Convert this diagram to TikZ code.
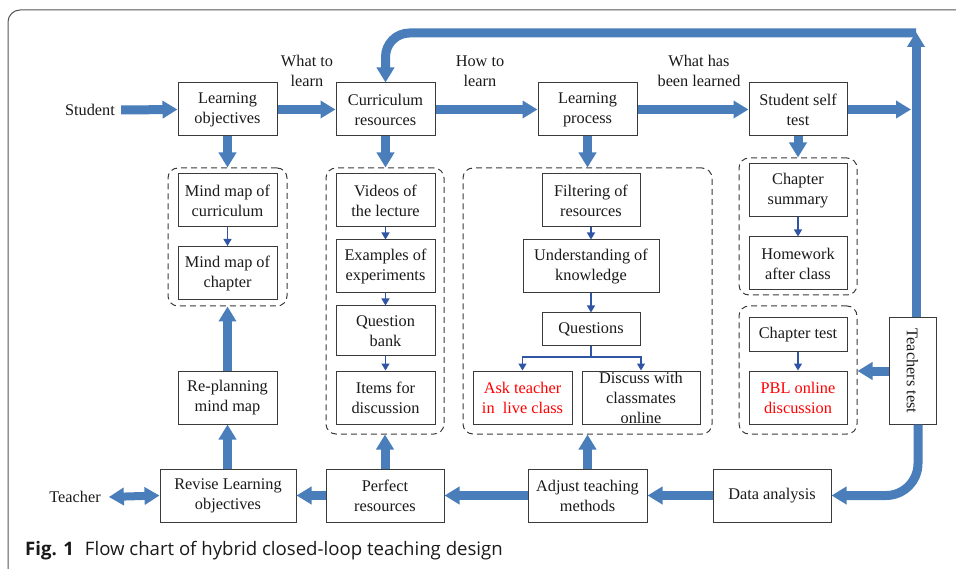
\documentclass[tikz,border=0pt]{standalone}
\usepackage{fontspec}
\usepackage{graphicx}
\setmainfont{Liberation Serif}
\newfontfamily\capfont{Open Sans}
\usetikzlibrary{arrows.meta,calc}
\definecolor{thickblue}{HTML}{4A7EBB}
\definecolor{thinblue}{HTML}{2F55A4}
\definecolor{boxline}{HTML}{3A3A3A}
\definecolor{framecol}{HTML}{555555}
\definecolor{txt}{HTML}{1A1A1A}
\tikzset{
  box/.style={draw=boxline, line width=1pt, fill=white, align=center, inner sep=1pt,
    text=txt, font=\fontsize{16.3}{20}\selectfont},
  plain/.style={align=center, inner sep=1pt, text=txt, font=\fontsize{16.3}{20}\selectfont},
  dbox/.style={draw=boxline, line width=1pt, dash pattern=on 6pt off 4pt, rounded corners=10pt, inner sep=0pt},
  thickarr/.style={draw=thickblue, line width=9pt, -{Triangle[length=15pt,width=17pt]}},
  thickline/.style={draw=thickblue, line width=9pt},
  dblarr/.style={draw=thickblue, line width=8pt, {Triangle[length=15pt,width=17pt]}-{Triangle[length=15pt,width=17pt]}},
  thinarr/.style={draw=thinblue, line width=1.3pt, -{Triangle[length=7pt,width=8pt]}},
  redtext/.style={text=red},
}
\begin{document}
\begin{tikzpicture}[x=1pt,y=-1pt]
\useasboundingbox (0,0) rectangle (956,569);
\draw[framecol, line width=1pt, rounded corners=12pt] (8,10) rectangle (980,580);

% top row
\node[box, minimum width=99pt, minimum height=53pt] (lo) at (227.5,109.5) {Learning\\objectives};
\node[box, minimum width=99pt, minimum height=53pt] (cr) at (385.5,109.5) {Curriculum\\resources};
\node[box, minimum width=99pt, minimum height=53pt] (lp) at (587.5,109.5) {Learning\\process};
\node[box, minimum width=98pt, minimum height=53pt] (sst) at (798,109.5) {Student self\\test};
\node[plain] (student) at (90,110) {Student};
\node[plain] (whatto) at (307,71) {What to\\learn};
\node[plain] (howto) at (480,71) {How to\\learn};
\node[plain] (whathas) at (699,71) {What has\\been learned};

% dashed groups
\node[dbox, minimum width=119pt, minimum height=138pt] (d1) at (227.5,237) {};
\node[dbox, minimum width=118pt, minimum height=266pt] (d2) at (385,301) {};
\node[dbox, minimum width=249pt, minimum height=266pt] (d3) at (587.5,301) {};
\node[dbox, minimum width=118pt, minimum height=137pt] (d4) at (798,226.5) {};
\node[dbox, minimum width=118pt, minimum height=128pt] (d5) at (798,370) {};

% group 1
\node[box, minimum width=99pt, minimum height=53pt] (mmc) at (227.5,200.5) {Mind map of\\curriculum};
\node[box, minimum width=99pt, minimum height=53pt] (mmch) at (227.5,273) {Mind map of\\chapter};
\node[box, minimum width=99pt, minimum height=53pt] (rp) at (227.5,397.5) {Re-planning\\mind map};

% group 2
\node[box, minimum width=99pt, minimum height=53pt] (vid) at (385.5,200.5) {Videos of\\the lecture};
\node[box, minimum width=99pt, minimum height=53pt] (exp) at (385.5,266.5) {Examples of\\experiments};
\node[box, minimum width=99pt, minimum height=50pt] (qb) at (385.5,331) {Question\\bank};
\node[box, minimum width=99pt, minimum height=53pt] (items) at (385.5,397.5) {Items for\\discussion};

% group 3
\node[box, minimum width=98pt, minimum height=53pt] (filt) at (591,200.5) {Filtering of\\resources};
\node[box, minimum width=136pt, minimum height=53pt] (und) at (591,266.5) {Understanding of\\knowledge};
\node[box, minimum width=98pt, minimum height=33pt] (ques) at (591,329.5) {Questions};
\node[box, minimum width=99pt, minimum height=53pt, redtext] (ask) at (522.5,397.5) {Ask teacher\\in\ \ live class};
\node[box, minimum width=118pt, minimum height=53pt] (disc) at (641,397.5) {};
\node[plain] (disctxt) at (641,398) {Discuss with\\classmates\\online};

% group 4 / 5
\node[box, minimum width=98pt, minimum height=53pt] (csum) at (798,190.5) {Chapter\\summary};
\node[box, minimum width=98pt, minimum height=53pt] (hw) at (798,263.5) {Homework\\after class};
\node[box, minimum width=98pt, minimum height=34pt] (ctest) at (798,335) {Chapter test};
\node[box, minimum width=98pt, minimum height=53pt, redtext] (pbl) at (798,397.5) {PBL online\\discussion};
\node[box, minimum width=47pt, minimum height=106pt] (tt) at (912.5,371) {\rotatebox{-90}{Teachers test}};

% bottom row
\node[box, minimum width=118pt, minimum height=53pt] (da) at (772,495.5) {Data analysis};
\node[box, minimum width=119pt, minimum height=53pt] (atm) at (587.5,495.5) {Adjust teaching\\methods};
\node[box, minimum width=118pt, minimum height=53pt] (pr) at (385,495.5) {Perfect\\resources};
\node[box, minimum width=136pt, minimum height=53pt] (rlo) at (228,495.5) {Revise Learning\\objectives};
\node[plain] (teacher) at (75,497) {Teacher};

% caption
\node[anchor=base west, inner sep=0pt, text=txt, font=\capfont\fontsize{18.6}{20}\selectfont] (cap) at (25,555)
  {\textbf{Fig. 1}\hspace{11pt}Flow chart of hybrid closed-loop teaching design};

% coordinates for loop
\coordinate (topright) at (916,33);
\coordinate (rt) at (911,109.5);

% thick arrows top row
\draw[thickarr] ($(student.east)+(5,0)$) -- (lo.west);
\draw[thickarr] (lo.east) -- (cr.west);
\draw[thickarr] (cr.east) -- (lp.west);
\draw[thickarr] (lp.east) -- (sst.west);
\draw[thickarr] (sst.east) -- (rt);

% down arrows
\draw[thickarr] (lo.south) -- (d1.north);
\draw[thickarr] (cr.south) -- (cr.south |- d2.north);
\draw[thickarr] (lp.south) -- (lp.south |- d3.north);
\draw[thickarr] (sst.south) -- (d4.north);

% loop
\draw[thickarr, rounded corners=24pt] (topright) -| (cr.north);
\draw[thickarr] (tt.north -| topright) -- ($(topright)+(0,-1)$);
\draw[thickarr] (tt.west) -- (tt.west -| d5.east);
\draw[thickarr, rounded corners=32pt] ($(tt.south)+(5.5,0)$) |- (da.east);

% bottom row arrows
\draw[thickarr] (da.west) -- (atm.east);
\draw[thickarr] (atm.west) -- (pr.east);
\draw[thickarr] (pr.west) -- (rlo.east);
\draw[dblarr] ($(teacher.east)+(7,0)$) -- (rlo.west);

% up arrows
\draw[thickarr] (rlo.north -| rp.south) -- (rp.south);
\draw[thickarr] (rp.north) -- (d1.south);
\draw[thickarr] (pr.north) -- (d2.south);
\draw[thickarr] (atm.north) -- (d3.south);

% thin arrows
\draw[thinarr] (mmc.south) -- (mmch.north);
\draw[thinarr] (vid.south) -- (exp.north);
\draw[thinarr] (exp.south) -- (qb.north);
\draw[thinarr] (qb.south) -- (items.north);
\draw[thinarr] (filt.south) -- (und.north);
\draw[thinarr] (und.south) -- (ques.north);
\coordinate (br) at (591,357);
\draw[thinarr] (ques.south) -- (br) -| (ask.north);
\draw[thinarr] (br) -| (disc.north);
\draw[thinarr] (csum.south) -- (hw.north);
\draw[thinarr] (ctest.south) -- (pbl.north);
\end{tikzpicture}
\end{document}
